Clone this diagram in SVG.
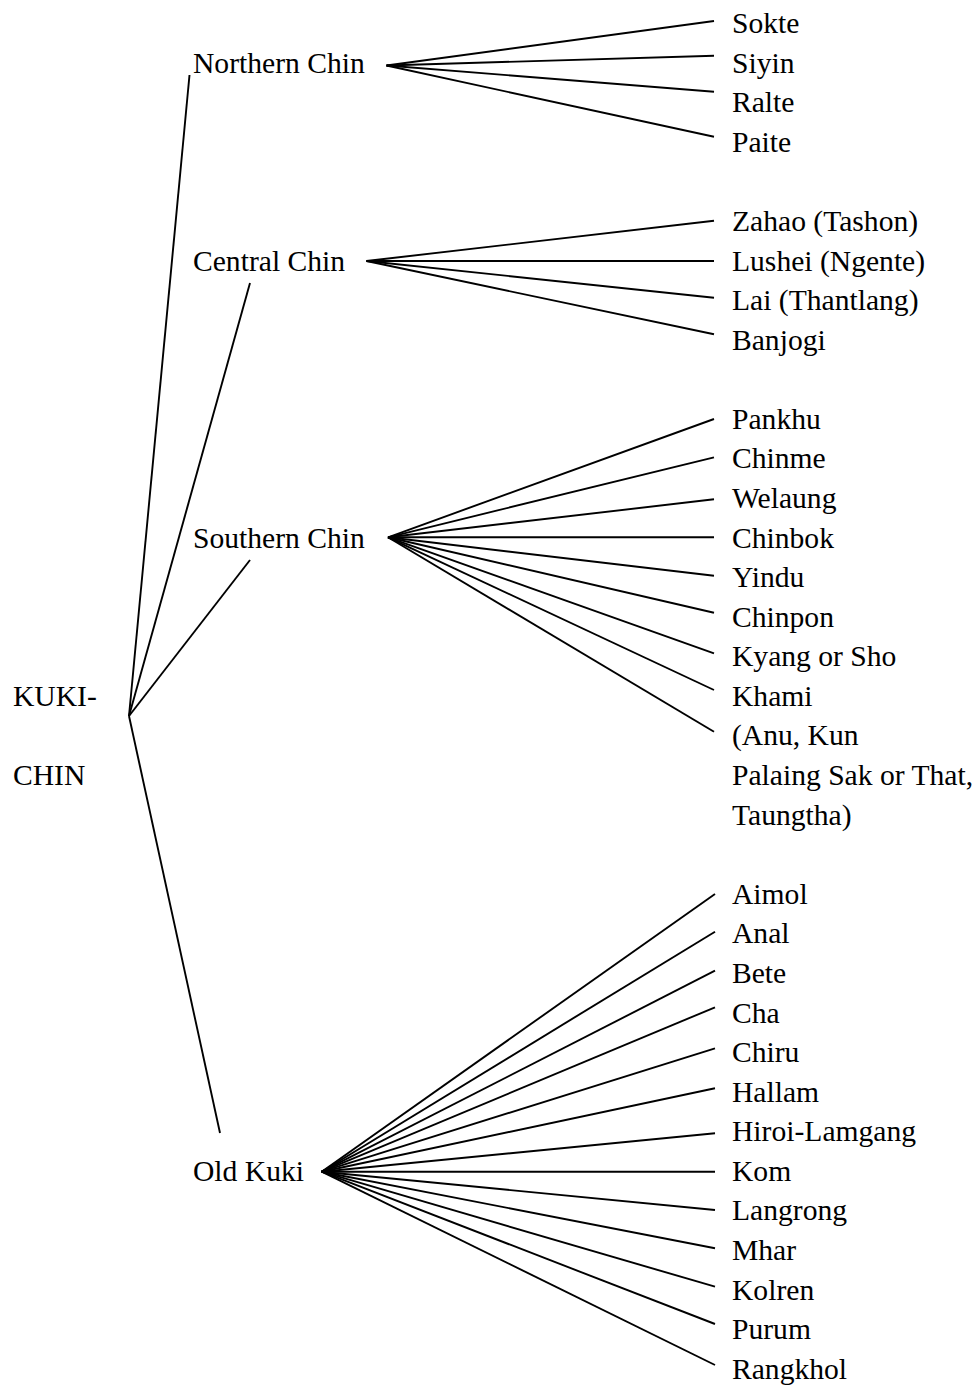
<svg xmlns="http://www.w3.org/2000/svg" width="980" height="1387" viewBox="0 0 980 1387">
<style>
text{font-family:"Liberation Serif","Times New Roman",serif;font-size:29.6px;fill:#000}
.c line{stroke:#000;stroke-width:1.9;stroke-linecap:butt}
</style>
<rect width="980" height="1387" fill="#fff"/>
<g class="c" id="connectors">
<line x1="129" y1="716" x2="189.5" y2="75"/>
<line x1="129" y1="716" x2="250" y2="283"/>
<line x1="129" y1="716" x2="250" y2="560"/>
<line x1="129" y1="716" x2="220" y2="1133"/>
<line x1="386.5" y1="65.5" x2="714" y2="21"/>
<line x1="386.5" y1="65.5" x2="714" y2="55.7"/>
<line x1="386.5" y1="65.5" x2="714" y2="91.7"/>
<line x1="386.5" y1="65.5" x2="714" y2="136.7"/>
<line x1="366.5" y1="261" x2="714" y2="220.7"/>
<line x1="366.5" y1="261" x2="714" y2="261"/>
<line x1="366.5" y1="261" x2="714" y2="297.7"/>
<line x1="366.5" y1="261" x2="714" y2="334.3"/>
<line x1="388" y1="537.3" x2="714" y2="419"/>
<line x1="388" y1="537.3" x2="714" y2="457.3"/>
<line x1="388" y1="537.3" x2="714" y2="499.3"/>
<line x1="388" y1="537.3" x2="714" y2="537.3"/>
<line x1="388" y1="537.3" x2="714" y2="575.7"/>
<line x1="388" y1="537.3" x2="714" y2="612.7"/>
<line x1="388" y1="537.3" x2="714" y2="653.3"/>
<line x1="388" y1="537.3" x2="714" y2="690"/>
<line x1="388" y1="537.3" x2="714" y2="731.7"/>
<line x1="321.7" y1="1171.7" x2="715" y2="894"/>
<line x1="321.7" y1="1171.7" x2="715" y2="931.7"/>
<line x1="321.7" y1="1171.7" x2="715" y2="970.7"/>
<line x1="321.7" y1="1171.7" x2="715" y2="1007.3"/>
<line x1="321.7" y1="1171.7" x2="715" y2="1048.3"/>
<line x1="321.7" y1="1171.7" x2="715" y2="1088.3"/>
<line x1="321.7" y1="1171.7" x2="715" y2="1133.3"/>
<line x1="321.7" y1="1171.7" x2="715" y2="1171.7"/>
<line x1="321.7" y1="1171.7" x2="715" y2="1210"/>
<line x1="321.7" y1="1171.7" x2="715" y2="1248.3"/>
<line x1="321.7" y1="1171.7" x2="715" y2="1286.7"/>
<line x1="321.7" y1="1171.7" x2="715" y2="1324"/>
<line x1="321.7" y1="1171.7" x2="715" y2="1365"/>
</g>
<g id="root"><text x="13" y="706">KUKI-</text><text x="13" y="785">CHIN</text></g>
<g id="northern-chin"><text x="193" y="73">Northern Chin</text></g>
<g id="central-chin"><text x="193" y="271">Central Chin</text></g>
<g id="southern-chin"><text x="193" y="547.5">Southern Chin</text></g>
<g id="old-kuki"><text x="193" y="1181">Old Kuki</text></g>
<g id="n-sokte"><text x="732" y="33">Sokte</text></g>
<g id="n-siyin"><text x="732" y="72.6">Siyin</text></g>
<g id="n-ralte"><text x="732" y="112.2">Ralte</text></g>
<g id="n-paite"><text x="732" y="151.7">Paite</text></g>
<g id="c-zahao"><text x="732" y="230.9">Zahao (Tashon)</text></g>
<g id="c-lushei"><text x="732" y="270.5">Lushei (Ngente)</text></g>
<g id="c-lai"><text x="732" y="310.1">Lai (Thantlang)</text></g>
<g id="c-banjogi"><text x="732" y="349.6">Banjogi</text></g>
<g id="s-pankhu"><text x="732" y="428.8">Pankhu</text></g>
<g id="s-chinme"><text x="732" y="468.4">Chinme</text></g>
<g id="s-welaung"><text x="732" y="508">Welaung</text></g>
<g id="s-chinbok"><text x="732" y="547.5">Chinbok</text></g>
<g id="s-yindu"><text x="732" y="587.1">Yindu</text></g>
<g id="s-chinpon"><text x="732" y="626.7">Chinpon</text></g>
<g id="s-kyang"><text x="732" y="666.3">Kyang or Sho</text></g>
<g id="s-khami"><text x="732" y="705.9">Khami</text></g>
<g id="s-anu"><text x="732" y="745.4">(Anu, Kun</text><text x="732" y="785">Palaing Sak or That,</text><text x="732" y="824.6">Taungtha)</text></g>
<g id="o-aimol"><text x="732" y="903.8">Aimol</text></g>
<g id="o-anal"><text x="732" y="943.4">Anal</text></g>
<g id="o-bete"><text x="732" y="982.9">Bete</text></g>
<g id="o-cha"><text x="732" y="1022.5">Cha</text></g>
<g id="o-chiru"><text x="732" y="1062.1">Chiru</text></g>
<g id="o-hallam"><text x="732" y="1101.7">Hallam</text></g>
<g id="o-hiroi"><text x="732" y="1141.3">Hiroi-Lamgang</text></g>
<g id="o-kom"><text x="732" y="1180.8">Kom</text></g>
<g id="o-langrong"><text x="732" y="1220.4">Langrong</text></g>
<g id="o-mhar"><text x="732" y="1260">Mhar</text></g>
<g id="o-kolren"><text x="732" y="1299.6">Kolren</text></g>
<g id="o-purum"><text x="732" y="1339.2">Purum</text></g>
<g id="o-rangkhol"><text x="732" y="1378.7">Rangkhol</text></g>
</svg>
